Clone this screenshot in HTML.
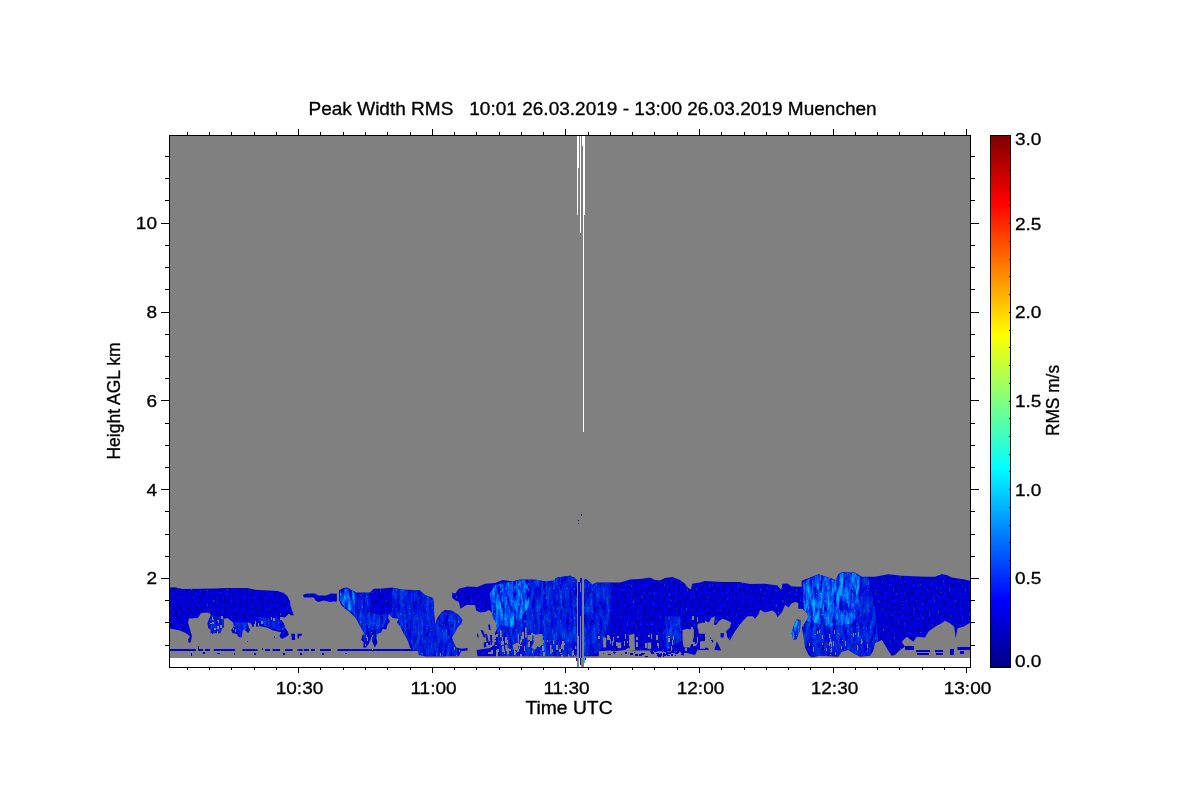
<!DOCTYPE html>
<html lang="en">
<head>
<meta charset="utf-8">
<title>Peak Width RMS 10:01 26.03.2019 - 13:00 26.03.2019 Muenchen</title>
<style>
html,body{margin:0;padding:0;background:#fff;}
body{width:1200px;height:800px;overflow:hidden;position:relative;font-family:"Liberation Sans",sans-serif;}
svg{position:absolute;left:0;top:0;display:block;}
text{font-family:"Liberation Sans",sans-serif;font-size:17px;fill:#000;stroke:#000;stroke-width:0.3px;}
.ax{shape-rendering:crispEdges;}
</style>
</head>
<body>
<svg width="1200" height="800" viewBox="0 0 1200 800">
<defs>
<linearGradient id="jet" x1="0" y1="1" x2="0" y2="0">
<stop offset="0" stop-color="rgb(0,0,131)"/>
<stop offset="0.125" stop-color="rgb(0,0,255)"/>
<stop offset="0.375" stop-color="rgb(0,255,255)"/>
<stop offset="0.625" stop-color="rgb(255,255,0)"/>
<stop offset="0.875" stop-color="rgb(255,0,0)"/>
<stop offset="1" stop-color="rgb(128,0,0)"/>
</linearGradient>
<clipPath id="plotclip"><rect x="170" y="136" width="800" height="531"/></clipPath>
<filter id="nd" x="0" y="0" width="100%" height="100%" color-interpolation-filters="sRGB">
<feTurbulence type="fractalNoise" baseFrequency="0.45 0.25" numOctaves="2" seed="7" result="n"/>
<feColorMatrix in="n" type="matrix" values="0 0 0 0 0  2.5 0 0 0 -1.72  0 0.7 0 0 0.46  0 0 0 0 1" result="c"/>
<feComposite in="c" in2="SourceGraphic" operator="in"/>
</filter>
<filter id="nb" x="0" y="0" width="100%" height="100%" color-interpolation-filters="sRGB">
<feTurbulence type="fractalNoise" baseFrequency="0.3 0.07" numOctaves="3" seed="11" result="n"/>
<feColorMatrix in="n" type="matrix" values="0 0 0 0 0  0.9 0 0 0 0.06  0 0 0 0 1  0 0 2.6 0 -0.70" result="c"/>
<feComposite in="c" in2="SourceGraphic" operator="in"/>
</filter>
<filter id="ns" x="0" y="0" width="100%" height="100%" color-interpolation-filters="sRGB">
<feTurbulence type="fractalNoise" baseFrequency="0.5 0.3" numOctaves="2" seed="23" result="n"/>
<feColorMatrix in="n" type="matrix" values="0 0 0 0 0  0 0 0 0 0.8  0 0 0 0 1  5 0 0 0 -3.3" result="c"/>
<feComposite in="c" in2="SourceGraphic" operator="in"/>
</filter>
</defs>
<rect x="0" y="0" width="1200" height="800" fill="#fff"/>
<g class="ax">
<rect x="170" y="136" width="800" height="522" fill="#808080"/>
</g>
<g clip-path="url(#plotclip)">
<g filter="url(#nd)" fill="#0000dc">
<polygon points="170.0,587.5 175.0,587.2 182.5,589.0 215.0,588.5 225.0,588.0 247.5,588.0 255.0,589.8 277.5,591.0 283.8,593.1 287.5,596.2 290.0,601.2 290.6,606.2 292.5,611.2 293.8,615.2 291.5,615.6 288.8,613.8 285.0,617.5 281.2,616.9 280.6,619.0 283.8,623.1 285.2,628.1 288.1,631.9 288.8,635.0 285.0,637.5 281.9,639.0 279.4,636.2 281.2,632.2 277.5,631.5 272.5,630.2 267.5,627.8 260.0,626.2 252.5,626.9 251.2,623.8 247.5,621.9 248.8,627.5 250.2,630.0 248.1,633.1 245.6,630.6 242.8,630.0 241.5,637.5 238.8,636.9 236.5,633.8 232.5,633.2 231.2,630.0 234.0,626.2 232.5,621.9 227.5,618.1 223.8,618.8 224.0,626.9 221.9,629.0 220.2,633.2 210.6,633.2 210.6,630.0 208.1,627.8 207.5,622.8 211.0,614.4 207.5,612.5 201.2,613.1 197.8,618.1 188.8,618.5 188.1,623.1 190.6,631.2 191.9,636.2 190.6,642.5 188.8,643.1 188.1,639.4 190.0,636.2 185.6,633.1 180.0,630.6 175.0,629.4 170.0,628.5"/>
<polygon points="291.2,633.8 295.0,633.8 295.0,640.0 291.9,640.0"/>
<polygon points="297.5,633.8 301.9,633.8 301.9,635.6 299.4,636.2 298.8,638.8 297.5,638.1"/>
<polygon points="303.1,595.0 306.2,593.5 315.0,593.5 318.1,595.6 326.2,595.6 331.2,593.5 336.9,593.8 336.9,601.5 330.0,601.9 323.8,600.6 318.1,601.9 315.6,600.6 313.8,597.5 303.8,597.5"/>
<polygon points="339.0,590.6 343.1,588.1 347.5,587.5 352.5,590.6 356.2,592.5 370.0,592.5 373.8,588.8 382.5,588.5 392.5,587.5 402.5,589.4 420.0,590.2 425.0,595.0 433.1,598.1 433.8,603.8 433.8,612.5 435.0,625.0 438.8,616.2 445.0,611.2 445.0,656.2 425.0,656.2 418.8,655.0 418.1,651.2 412.5,650.0 410.0,647.5 407.5,640.0 403.8,633.8 400.0,626.2 396.9,622.5 398.8,618.8 392.5,618.1 388.8,613.8 388.1,618.1 390.0,621.2 387.5,625.0 386.2,629.4 382.5,628.8 381.2,632.5 377.5,633.8 376.2,637.5 377.5,642.5 375.0,647.5 372.5,642.5 371.2,638.8 368.8,643.8 366.2,647.5 363.1,647.5 363.8,642.5 361.2,640.0 362.5,635.0 364.4,633.8 360.0,626.2 356.2,618.8 353.8,616.2 348.8,611.2 345.0,608.8 341.2,605.0 339.0,600.0"/>
<polygon points="425.0,595.0 430.0,597.5 433.1,598.8 433.8,607.5 435.0,625.0 436.9,618.8 441.2,612.5 445.0,610.0 451.9,610.6 458.8,615.0 462.5,620.0 461.2,623.8 457.5,627.5 455.0,632.5 451.9,637.5 453.8,642.5 456.2,647.5 461.2,648.8 467.5,648.1 467.5,650.6 461.2,651.2 458.8,656.2 425.0,656.2"/>
<polygon points="452.2,592.5 455.0,593.8 458.8,588.8 467.5,586.5 477.5,586.9 485.0,583.8 495.0,583.1 502.5,580.0 512.5,581.2 520.0,579.4 535.0,579.4 545.0,581.2 553.8,580.6 557.5,577.5 565.0,576.2 575.0,577.5 575.0,656.2 477.5,656.2 476.6,650.0 490.0,648.1 494.4,645.0 495.0,633.4 496.9,628.8 495.6,621.2 493.1,618.8 491.9,612.5 488.8,610.0 485.0,611.9 480.0,612.5 476.2,610.6 475.0,605.0 466.2,605.0 460.6,608.8 458.8,601.9 455.0,600.0 452.2,598.1"/>
<polygon points="488.1,624.4 490.0,624.4 490.6,630.0 489.0,630.0"/>
<polygon points="480.6,630.0 483.1,630.6 485.6,637.5 483.8,637.5"/>
<polygon points="485.0,633.8 486.9,633.8 488.8,642.5 486.9,642.5"/>
<polygon points="490.0,635.0 491.9,635.0 492.5,645.0 490.6,645.0"/>
<polygon points="483.8,642.5 490.0,641.2 490.0,645.6 483.8,647.5"/>
<polygon points="476.9,633.8 478.1,633.8 478.8,637.5 477.5,637.5"/>
<polygon points="555.0,578.1 562.5,577.5 570.0,575.6 575.6,578.8 577.0,580.0 577.0,656.2 555.0,656.2"/>
<polygon points="584.0,580.0 586.0,578.8 592.5,584.4 596.2,582.5 610.0,582.5 620.0,582.5 630.0,579.4 642.5,578.8 650.0,577.5 655.0,580.0 660.0,580.6 665.0,578.1 672.5,576.9 680.0,580.0 685.0,583.8 687.5,587.5 691.2,590.0 692.5,584.4 698.8,583.8 705.0,582.5 705.0,650.0 687.5,650.0 683.8,652.5 683.8,656.2 680.0,651.5 655.0,651.2 650.0,650.6 635.0,650.6 631.2,650.0 628.8,647.5 625.0,650.0 613.8,651.2 610.0,650.6 598.8,651.2 598.8,656.2 584.0,656.2"/>
<polygon points="685.0,585.0 687.5,587.5 691.2,590.0 691.9,583.8 700.0,582.5 705.0,581.0 722.5,581.9 738.8,581.9 750.0,584.0 765.0,583.8 777.5,585.6 781.2,590.0 782.5,583.8 787.5,583.5 791.2,586.2 800.0,586.9 803.1,586.9 803.1,608.8 802.5,608.8 798.8,603.1 795.0,601.9 791.2,603.8 788.8,607.5 785.0,605.0 782.5,611.2 777.5,617.5 776.2,613.8 772.5,610.6 765.0,612.5 760.0,609.4 758.8,613.8 755.0,618.8 752.5,616.2 747.5,616.2 742.5,621.2 735.0,631.2 730.0,640.6 727.5,637.5 726.2,631.2 730.0,627.5 731.2,622.5 726.2,620.0 722.5,618.8 718.8,621.2 716.2,625.0 713.8,625.0 715.0,616.2 711.2,618.1 708.8,622.5 703.8,620.0 701.2,625.0 703.8,631.2 702.5,642.5 703.8,647.5 708.1,648.1 708.8,650.0 697.5,650.0 695.0,655.0 685.0,652.5"/>
<polygon points="720.6,633.1 723.8,633.1 723.8,637.5 720.6,637.5"/>
<polygon points="710.0,637.5 713.1,637.5 713.1,642.5 710.0,642.5"/>
<polygon points="714.4,650.0 716.9,641.2 721.2,650.6"/>
<polygon points="801.7,580.8 808.3,578.3 818.3,574.2 826.7,576.7 835.8,580.0 838.3,574.2 841.7,572.0 855.0,572.5 861.7,576.7 875.0,576.7 888.3,574.2 901.7,575.8 925.0,576.7 935.0,576.7 941.7,574.2 946.7,575.0 951.7,577.5 963.3,579.2 970.0,580.8 970.0,623.3 969.2,623.3 963.3,626.7 957.5,628.3 955.8,638.3 954.2,626.7 950.0,623.3 945.0,620.8 941.7,623.3 935.0,626.7 928.3,631.7 925.0,637.5 916.7,636.7 913.3,641.7 906.7,636.7 901.7,641.7 905.0,646.7 900.0,650.0 895.0,655.0 891.7,655.8 888.3,650.8 885.0,645.0 881.7,640.0 875.0,643.3 873.3,650.8 870.0,655.8 860.0,656.7 853.3,653.3 848.3,650.0 841.7,651.7 838.3,656.7 820.0,655.8 811.7,657.5 808.7,655.0 805.0,647.5 803.7,637.5 801.8,627.5 805.0,622.5 808.2,617.5 807.5,613.7 802.5,608.7 798.3,608.7 798.3,586.7 801.7,586.7"/>
<polygon points="793.3,626.7 796.7,619.2 800.8,620.0 800.0,630.0 796.7,639.2 793.3,640.0 791.7,633.3"/>
<polygon points="170.0,649.0 196.0,649.0 196.0,651.0 170.0,651.0"/>
<polygon points="198.0,649.0 203.0,649.0 203.0,651.0 198.0,651.0"/>
<polygon points="205.0,649.0 210.0,649.0 210.0,651.0 205.0,651.0"/>
<polygon points="213.8,649.0 235.0,649.0 235.0,651.0 213.8,651.0"/>
<polygon points="242.5,649.0 257.5,649.0 257.5,651.0 242.5,651.0"/>
<polygon points="265.0,649.0 270.0,649.0 270.0,651.0 265.0,651.0"/>
<polygon points="272.5,649.0 280.0,649.0 280.0,651.0 272.5,651.0"/>
<polygon points="285.0,649.0 292.5,649.0 292.5,651.0 285.0,651.0"/>
<polygon points="297.5,649.0 302.5,649.0 302.5,651.0 297.5,651.0"/>
<polygon points="303.8,649.0 309.0,649.0 309.0,651.0 303.8,651.0"/>
<polygon points="311.0,649.0 315.0,649.0 315.0,651.0 311.0,651.0"/>
<polygon points="320.0,649.0 331.0,649.0 331.0,651.0 320.0,651.0"/>
<polygon points="337.5,649.0 419.0,649.0 419.0,651.0 337.5,651.0"/>
<polygon points="191.0,653.0 192.0,653.0 192.0,656.0 191.0,656.0"/>
<polygon points="198.0,646.0 199.0,646.0 199.0,649.0 198.0,649.0"/>
<polygon points="203.0,652.0 205.0,652.0 205.0,654.0 203.0,654.0"/>
<polygon points="217.0,653.0 220.0,653.0 220.0,654.0 217.0,654.0"/>
<polygon points="234.0,653.0 235.0,653.0 235.0,655.0 234.0,655.0"/>
<polygon points="254.0,653.0 256.0,653.0 256.0,655.0 254.0,655.0"/>
<polygon points="262.0,648.0 263.0,648.0 263.0,650.0 262.0,650.0"/>
<polygon points="283.0,653.0 285.0,653.0 285.0,655.0 283.0,655.0"/>
<polygon points="300.0,653.0 302.0,653.0 302.0,655.0 300.0,655.0"/>
<polygon points="322.0,653.0 324.0,653.0 324.0,655.0 322.0,655.0"/>
<polygon points="345.0,653.0 347.0,653.0 347.0,654.0 345.0,654.0"/>
<polygon points="247.0,641.0 248.0,641.0 248.0,642.0 247.0,642.0"/>
<polygon points="212.0,633.0 213.0,633.0 213.0,634.0 212.0,634.0"/>
<polygon points="274.0,636.0 275.0,636.0 275.0,638.0 274.0,638.0"/>
<polygon points="916.0,650.0 930.0,650.0 930.0,652.0 916.0,652.0"/>
<polygon points="917.0,653.0 929.0,653.0 929.0,655.0 917.0,655.0"/>
<polygon points="935.0,650.0 943.0,650.0 943.0,652.0 935.0,652.0"/>
<polygon points="936.0,653.0 943.0,653.0 943.0,655.0 936.0,655.0"/>
<polygon points="950.0,649.0 954.0,649.0 954.0,655.0 950.0,655.0"/>
<polygon points="957.5,647.0 970.0,647.0 970.0,650.0 957.5,650.0"/>
<polygon points="960.0,651.0 964.0,651.0 964.0,654.0 960.0,654.0"/>
<polygon points="905.0,646.0 914.0,646.0 914.0,650.0 905.0,650.0"/>
<polygon points="650.0,651.0 651.0,651.0 651.0,652.0 650.0,652.0"/>
<polygon points="664.0,654.0 666.0,654.0 666.0,656.0 664.0,656.0"/>
<polygon points="665.0,651.0 666.0,651.0 666.0,652.0 665.0,652.0"/>
<polygon points="672.0,651.0 674.0,651.0 674.0,653.0 672.0,653.0"/>
<polygon points="651.0,652.0 654.0,652.0 654.0,654.0 651.0,654.0"/>
<polygon points="654.0,651.0 657.0,651.0 657.0,652.0 654.0,652.0"/>
<polygon points="675.0,655.0 676.0,655.0 676.0,656.0 675.0,656.0"/>
<polygon points="677.0,652.0 678.0,652.0 678.0,654.0 677.0,654.0"/>
<polygon points="667.0,652.0 669.0,652.0 669.0,653.0 667.0,653.0"/>
<polygon points="669.0,652.0 671.0,652.0 671.0,654.0 669.0,654.0"/>
<polygon points="677.0,652.0 679.0,652.0 679.0,653.0 677.0,653.0"/>
<polygon points="635.0,654.0 637.0,654.0 637.0,656.0 635.0,656.0"/>
<polygon points="645.0,656.0 648.0,656.0 648.0,657.0 645.0,657.0"/>
<polygon points="641.0,653.0 644.0,653.0 644.0,655.0 641.0,655.0"/>
<polygon points="666.0,652.0 669.0,652.0 669.0,654.0 666.0,654.0"/>
<polygon points="671.0,654.0 673.0,654.0 673.0,656.0 671.0,656.0"/>
<polygon points="671.0,651.0 674.0,651.0 674.0,653.0 671.0,653.0"/>
<polygon points="681.0,654.0 683.0,654.0 683.0,655.0 681.0,655.0"/>
<polygon points="657.0,655.0 659.0,655.0 659.0,656.0 657.0,656.0"/>
<polygon points="639.0,654.0 642.0,654.0 642.0,656.0 639.0,656.0"/>
<polygon points="683.0,652.0 686.0,652.0 686.0,653.0 683.0,653.0"/>
<polygon points="657.0,654.0 660.0,654.0 660.0,656.0 657.0,656.0"/>
<polygon points="664.0,651.0 667.0,651.0 667.0,652.0 664.0,652.0"/>
<polygon points="675.0,652.0 677.0,652.0 677.0,654.0 675.0,654.0"/>
<polygon points="634.0,652.0 635.0,652.0 635.0,653.0 634.0,653.0"/>
<polygon points="659.0,655.0 662.0,655.0 662.0,656.0 659.0,656.0"/>
<polygon points="663.0,653.0 665.0,653.0 665.0,655.0 663.0,655.0"/>
<polygon points="658.0,656.0 661.0,656.0 661.0,657.0 658.0,657.0"/>
<polygon points="667.0,655.0 670.0,655.0 670.0,656.0 667.0,656.0"/>
<polygon points="637.0,654.0 638.0,654.0 638.0,656.0 637.0,656.0"/>
<polygon points="666.0,654.0 668.0,654.0 668.0,655.0 666.0,655.0"/>
<polygon points="660.0,653.0 662.0,653.0 662.0,655.0 660.0,655.0"/>
<polygon points="663.0,655.0 664.0,655.0 664.0,657.0 663.0,657.0"/>
<polygon points="674.0,652.0 675.0,652.0 675.0,653.0 674.0,653.0"/>
<polygon points="639.0,655.0 642.0,655.0 642.0,656.0 639.0,656.0"/>
<polygon points="677.0,651.0 679.0,651.0 679.0,652.0 677.0,652.0"/>
<polygon points="662.0,651.0 663.0,651.0 663.0,652.0 662.0,652.0"/>
<polygon points="651.0,651.0 653.0,651.0 653.0,652.0 651.0,652.0"/>
<polygon points="656.0,653.0 659.0,653.0 659.0,654.0 656.0,654.0"/>
<polygon points="644.0,653.0 645.0,653.0 645.0,654.0 644.0,654.0"/>
<polygon points="603.0,653.0 604.0,653.0 604.0,654.0 603.0,654.0"/>
<polygon points="614.0,652.0 615.0,652.0 615.0,654.0 614.0,654.0"/>
<polygon points="608.0,654.0 611.0,654.0 611.0,655.0 608.0,655.0"/>
<polygon points="630.0,653.0 633.0,653.0 633.0,655.0 630.0,655.0"/>
<polygon points="630.0,653.0 633.0,653.0 633.0,655.0 630.0,655.0"/>
<polygon points="621.0,654.0 622.0,654.0 622.0,655.0 621.0,655.0"/>
<polygon points="625.0,652.0 627.0,652.0 627.0,654.0 625.0,654.0"/>
<polygon points="613.0,652.0 616.0,652.0 616.0,653.0 613.0,653.0"/>
</g>
<clipPath id="cl">
<polygon points="170.0,587.5 175.0,587.2 182.5,589.0 215.0,588.5 225.0,588.0 247.5,588.0 255.0,589.8 277.5,591.0 283.8,593.1 287.5,596.2 290.0,601.2 290.6,606.2 292.5,611.2 293.8,615.2 291.5,615.6 288.8,613.8 285.0,617.5 281.2,616.9 280.6,619.0 283.8,623.1 285.2,628.1 288.1,631.9 288.8,635.0 285.0,637.5 281.9,639.0 279.4,636.2 281.2,632.2 277.5,631.5 272.5,630.2 267.5,627.8 260.0,626.2 252.5,626.9 251.2,623.8 247.5,621.9 248.8,627.5 250.2,630.0 248.1,633.1 245.6,630.6 242.8,630.0 241.5,637.5 238.8,636.9 236.5,633.8 232.5,633.2 231.2,630.0 234.0,626.2 232.5,621.9 227.5,618.1 223.8,618.8 224.0,626.9 221.9,629.0 220.2,633.2 210.6,633.2 210.6,630.0 208.1,627.8 207.5,622.8 211.0,614.4 207.5,612.5 201.2,613.1 197.8,618.1 188.8,618.5 188.1,623.1 190.6,631.2 191.9,636.2 190.6,642.5 188.8,643.1 188.1,639.4 190.0,636.2 185.6,633.1 180.0,630.6 175.0,629.4 170.0,628.5"/>
<polygon points="297.5,633.8 301.9,633.8 301.9,635.6 299.4,636.2 298.8,638.8 297.5,638.1"/>
<polygon points="303.1,595.0 306.2,593.5 315.0,593.5 318.1,595.6 326.2,595.6 331.2,593.5 336.9,593.8 336.9,601.5 330.0,601.9 323.8,600.6 318.1,601.9 315.6,600.6 313.8,597.5 303.8,597.5"/>
<polygon points="339.0,590.6 343.1,588.1 347.5,587.5 352.5,590.6 356.2,592.5 370.0,592.5 373.8,588.8 382.5,588.5 392.5,587.5 402.5,589.4 420.0,590.2 425.0,595.0 433.1,598.1 433.8,603.8 433.8,612.5 435.0,625.0 438.8,616.2 445.0,611.2 445.0,656.2 425.0,656.2 418.8,655.0 418.1,651.2 412.5,650.0 410.0,647.5 407.5,640.0 403.8,633.8 400.0,626.2 396.9,622.5 398.8,618.8 392.5,618.1 388.8,613.8 388.1,618.1 390.0,621.2 387.5,625.0 386.2,629.4 382.5,628.8 381.2,632.5 377.5,633.8 376.2,637.5 377.5,642.5 375.0,647.5 372.5,642.5 371.2,638.8 368.8,643.8 366.2,647.5 363.1,647.5 363.8,642.5 361.2,640.0 362.5,635.0 364.4,633.8 360.0,626.2 356.2,618.8 353.8,616.2 348.8,611.2 345.0,608.8 341.2,605.0 339.0,600.0"/>
<polygon points="425.0,595.0 430.0,597.5 433.1,598.8 433.8,607.5 435.0,625.0 436.9,618.8 441.2,612.5 445.0,610.0 451.9,610.6 458.8,615.0 462.5,620.0 461.2,623.8 457.5,627.5 455.0,632.5 451.9,637.5 453.8,642.5 456.2,647.5 461.2,648.8 467.5,648.1 467.5,650.6 461.2,651.2 458.8,656.2 425.0,656.2"/>
<polygon points="452.2,592.5 455.0,593.8 458.8,588.8 467.5,586.5 477.5,586.9 485.0,583.8 495.0,583.1 502.5,580.0 512.5,581.2 520.0,579.4 535.0,579.4 545.0,581.2 553.8,580.6 557.5,577.5 565.0,576.2 575.0,577.5 575.0,656.2 477.5,656.2 476.6,650.0 490.0,648.1 494.4,645.0 495.0,633.4 496.9,628.8 495.6,621.2 493.1,618.8 491.9,612.5 488.8,610.0 485.0,611.9 480.0,612.5 476.2,610.6 475.0,605.0 466.2,605.0 460.6,608.8 458.8,601.9 455.0,600.0 452.2,598.1"/>
<polygon points="555.0,578.1 562.5,577.5 570.0,575.6 575.6,578.8 577.0,580.0 577.0,656.2 555.0,656.2"/>
<polygon points="584.0,580.0 586.0,578.8 592.5,584.4 596.2,582.5 610.0,582.5 620.0,582.5 630.0,579.4 642.5,578.8 650.0,577.5 655.0,580.0 660.0,580.6 665.0,578.1 672.5,576.9 680.0,580.0 685.0,583.8 687.5,587.5 691.2,590.0 692.5,584.4 698.8,583.8 705.0,582.5 705.0,650.0 687.5,650.0 683.8,652.5 683.8,656.2 680.0,651.5 655.0,651.2 650.0,650.6 635.0,650.6 631.2,650.0 628.8,647.5 625.0,650.0 613.8,651.2 610.0,650.6 598.8,651.2 598.8,656.2 584.0,656.2"/>
<polygon points="685.0,585.0 687.5,587.5 691.2,590.0 691.9,583.8 700.0,582.5 705.0,581.0 722.5,581.9 738.8,581.9 750.0,584.0 765.0,583.8 777.5,585.6 781.2,590.0 782.5,583.8 787.5,583.5 791.2,586.2 800.0,586.9 803.1,586.9 803.1,608.8 802.5,608.8 798.8,603.1 795.0,601.9 791.2,603.8 788.8,607.5 785.0,605.0 782.5,611.2 777.5,617.5 776.2,613.8 772.5,610.6 765.0,612.5 760.0,609.4 758.8,613.8 755.0,618.8 752.5,616.2 747.5,616.2 742.5,621.2 735.0,631.2 730.0,640.6 727.5,637.5 726.2,631.2 730.0,627.5 731.2,622.5 726.2,620.0 722.5,618.8 718.8,621.2 716.2,625.0 713.8,625.0 715.0,616.2 711.2,618.1 708.8,622.5 703.8,620.0 701.2,625.0 703.8,631.2 702.5,642.5 703.8,647.5 708.1,648.1 708.8,650.0 697.5,650.0 695.0,655.0 685.0,652.5"/>
<polygon points="801.7,580.8 808.3,578.3 818.3,574.2 826.7,576.7 835.8,580.0 838.3,574.2 841.7,572.0 855.0,572.5 861.7,576.7 875.0,576.7 888.3,574.2 901.7,575.8 925.0,576.7 935.0,576.7 941.7,574.2 946.7,575.0 951.7,577.5 963.3,579.2 970.0,580.8 970.0,623.3 969.2,623.3 963.3,626.7 957.5,628.3 955.8,638.3 954.2,626.7 950.0,623.3 945.0,620.8 941.7,623.3 935.0,626.7 928.3,631.7 925.0,637.5 916.7,636.7 913.3,641.7 906.7,636.7 901.7,641.7 905.0,646.7 900.0,650.0 895.0,655.0 891.7,655.8 888.3,650.8 885.0,645.0 881.7,640.0 875.0,643.3 873.3,650.8 870.0,655.8 860.0,656.7 853.3,653.3 848.3,650.0 841.7,651.7 838.3,656.7 820.0,655.8 811.7,657.5 808.7,655.0 805.0,647.5 803.7,637.5 801.8,627.5 805.0,622.5 808.2,617.5 807.5,613.7 802.5,608.7 798.3,608.7 798.3,586.7 801.7,586.7"/>
<polygon points="793.3,626.7 796.7,619.2 800.8,620.0 800.0,630.0 796.7,639.2 793.3,640.0 791.7,633.3"/>
</clipPath>
<g clip-path="url(#cl)">
<g filter="url(#nb)" fill="#0040ff" opacity="1">
<polygon points="339.4,591.2 347.5,588.1 353.8,592.5 354.4,602.5 350.6,610.6 345.0,607.8 340.0,600.0"/>
<polygon points="495.0,585.0 512.5,581.5 525.0,580.0 530.0,590.0 528.8,606.2 522.5,617.5 512.5,627.5 500.0,625.0 496.9,628.8 493.1,618.8 491.9,612.5 490.0,593.8"/>
<polygon points="803.3,581.7 818.3,574.7 826.7,577.0 835.8,580.3 838.7,574.7 841.7,572.5 855.0,573.0 860.0,577.3 858.3,610.0 853.3,623.3 830.0,626.7 803.3,620.0"/>
<polygon points="793.3,626.7 796.7,619.2 800.8,620.0 800.0,630.0 796.7,639.2 793.3,640.0 791.7,633.3"/>
</g>
<g filter="url(#ns)" fill="#0040ff" opacity="1">
<polygon points="339.4,591.2 347.5,588.1 353.8,592.5 354.4,602.5 350.6,610.6 345.0,607.8 340.0,600.0"/>
<polygon points="495.0,585.0 512.5,581.5 525.0,580.0 530.0,590.0 528.8,606.2 522.5,617.5 512.5,627.5 500.0,625.0 496.9,628.8 493.1,618.8 491.9,612.5 490.0,593.8"/>
<polygon points="803.3,581.7 818.3,574.7 826.7,577.0 835.8,580.3 838.7,574.7 841.7,572.5 855.0,573.0 860.0,577.3 858.3,610.0 853.3,623.3 830.0,626.7 803.3,620.0"/>
<polygon points="793.3,626.7 796.7,619.2 800.8,620.0 800.0,630.0 796.7,639.2 793.3,640.0 791.7,633.3"/>
</g>
<g filter="url(#nb)" fill="#0040ff" opacity="0.38">
<polygon points="211.5,615.2 223.5,616.9 223.8,626.2 220.0,632.8 210.9,632.8 208.4,625.0"/>
<polygon points="257.5,616.9 277.5,618.1 285.0,627.5 281.2,631.2 265.0,626.5"/>
<polygon points="232.5,622.5 247.5,622.5 250.0,630.0 241.5,637.2 235.0,633.2"/>
<polygon points="525.0,580.0 575.0,578.1 575.0,656.2 500.0,656.2 496.9,628.8 500.0,625.0 512.5,627.5 522.5,617.5 528.8,606.2 530.0,590.0"/>
<polygon points="555.0,578.1 570.0,576.0 577.0,580.0 577.0,656.2 555.0,656.2"/>
<polygon points="584.0,580.6 596.2,582.8 610.0,582.8 612.5,612.5 607.5,640.0 598.8,652.5 584.0,656.2"/>
<polygon points="665.0,616.2 680.0,616.2 682.5,640.0 667.5,650.0 662.5,637.5"/>
<polygon points="803.3,620.0 830.0,626.7 853.3,623.3 855.0,630.0 858.3,643.3 860.0,656.3 853.3,653.3 848.3,650.0 841.7,651.7 838.3,656.3 820.0,655.7 812.5,657.2 805.3,646.7 803.7,637.5"/>
<polygon points="803.3,620.0 830.0,626.7 853.3,623.3 855.0,630.0 858.3,643.3 860.0,656.3 853.3,653.3 848.3,650.0 841.7,651.7 838.3,656.3 820.0,655.7 812.5,657.2 805.3,646.7 803.7,637.5"/>
<polygon points="860.0,577.3 868.3,577.3 875.0,610.0 878.3,640.0 875.0,643.3 870.0,655.3 860.0,656.3 858.3,643.3 855.0,630.0 858.3,610.0"/>
<polygon points="407.5,622.5 432.5,612.5 445.0,612.5 445.0,656.2 425.0,656.2 418.8,655.0 412.5,650.0"/>
<polygon points="425.0,612.5 441.2,612.5 451.9,610.6 458.8,615.0 462.5,620.0 457.5,627.5 451.9,637.5 456.2,647.5 458.8,656.2 425.0,656.2"/>
<polygon points="339.0,590.6 347.5,587.5 356.2,592.5 370.0,592.5 370.0,612.5 382.5,615.0 392.5,612.5 392.5,587.5 402.5,589.4 420.0,590.2 433.1,598.1 435.0,625.0 445.0,611.2 445.0,656.2 425.0,656.2 407.5,640.0 396.9,622.5 388.8,613.8 381.2,632.5 366.2,647.5 360.0,626.2 348.8,611.2 339.0,600.0"/>
</g>
<g filter="url(#ns)" fill="#0040ff" opacity="0.38">
<polygon points="211.5,615.2 223.5,616.9 223.8,626.2 220.0,632.8 210.9,632.8 208.4,625.0"/>
<polygon points="257.5,616.9 277.5,618.1 285.0,627.5 281.2,631.2 265.0,626.5"/>
<polygon points="232.5,622.5 247.5,622.5 250.0,630.0 241.5,637.2 235.0,633.2"/>
<polygon points="525.0,580.0 575.0,578.1 575.0,656.2 500.0,656.2 496.9,628.8 500.0,625.0 512.5,627.5 522.5,617.5 528.8,606.2 530.0,590.0"/>
<polygon points="555.0,578.1 570.0,576.0 577.0,580.0 577.0,656.2 555.0,656.2"/>
<polygon points="584.0,580.6 596.2,582.8 610.0,582.8 612.5,612.5 607.5,640.0 598.8,652.5 584.0,656.2"/>
<polygon points="665.0,616.2 680.0,616.2 682.5,640.0 667.5,650.0 662.5,637.5"/>
<polygon points="803.3,620.0 830.0,626.7 853.3,623.3 855.0,630.0 858.3,643.3 860.0,656.3 853.3,653.3 848.3,650.0 841.7,651.7 838.3,656.3 820.0,655.7 812.5,657.2 805.3,646.7 803.7,637.5"/>
<polygon points="803.3,620.0 830.0,626.7 853.3,623.3 855.0,630.0 858.3,643.3 860.0,656.3 853.3,653.3 848.3,650.0 841.7,651.7 838.3,656.3 820.0,655.7 812.5,657.2 805.3,646.7 803.7,637.5"/>
<polygon points="860.0,577.3 868.3,577.3 875.0,610.0 878.3,640.0 875.0,643.3 870.0,655.3 860.0,656.3 858.3,643.3 855.0,630.0 858.3,610.0"/>
<polygon points="407.5,622.5 432.5,612.5 445.0,612.5 445.0,656.2 425.0,656.2 418.8,655.0 412.5,650.0"/>
<polygon points="425.0,612.5 441.2,612.5 451.9,610.6 458.8,615.0 462.5,620.0 457.5,627.5 451.9,637.5 456.2,647.5 458.8,656.2 425.0,656.2"/>
<polygon points="339.0,590.6 347.5,587.5 356.2,592.5 370.0,592.5 370.0,612.5 382.5,615.0 392.5,612.5 392.5,587.5 402.5,589.4 420.0,590.2 433.1,598.1 435.0,625.0 445.0,611.2 445.0,656.2 425.0,656.2 407.5,640.0 396.9,622.5 388.8,613.8 381.2,632.5 366.2,647.5 360.0,626.2 348.8,611.2 339.0,600.0"/>
</g>
</g>
<g fill="#808080">
<polygon points="533.8,635.0 542.5,633.8 543.1,645.0 537.5,646.2 535.0,650.0 531.2,647.5 533.8,642.5"/>
<polygon points="512.5,645.0 517.5,642.5 518.8,650.0 513.8,650.0"/>
<polygon points="682.5,630.0 687.5,628.8 693.8,630.0 693.8,637.5 690.0,647.5 683.8,647.5 682.5,640.0"/>
<polygon points="697.5,623.8 705.0,622.5 705.0,633.8 698.8,633.8"/>
<polygon points="700.0,641.2 705.0,641.2 705.0,648.8 700.0,648.8"/>
<polygon points="603.1,637.5 606.2,637.5 606.2,647.5 603.1,647.5"/>
<polygon points="617.5,642.5 621.2,642.5 621.2,648.1 617.5,648.1"/>
<polygon points="628.8,635.0 634.4,633.8 635.0,650.0 630.0,650.0"/>
<polygon points="647.5,642.5 651.2,642.5 651.2,648.8 647.5,648.8"/>
<polygon points="690.0,630.0 693.8,628.8 692.5,640.0 688.8,645.0 687.5,640.0"/>
<polygon points="697.5,625.0 701.2,624.4 700.6,628.8 697.5,628.8"/>
<polygon points="525.0,627.5 526.5,627.5 526.8,637.5 525.2,637.5"/>
<polygon points="517.5,633.8 518.8,633.8 519.0,642.5 517.8,642.5"/>
<polygon points="505.0,645.0 507.5,644.4 507.8,651.2 505.6,651.2"/>
<polygon points="527.5,635.0 532.5,634.8 532.2,640.0 527.8,640.2"/>
<polygon points="500.0,630.0 501.5,630.0 501.8,637.5 500.2,637.5"/>
<polygon points="550.0,645.0 551.5,645.0 551.8,653.8 550.2,653.8"/>
<polygon points="562.5,642.5 563.8,642.5 564.0,650.0 562.8,650.0"/>
<polygon points="507.0,648.0 509.0,648.0 509.0,654.0 507.0,654.0"/>
<polygon points="534.0,639.0 535.0,639.0 535.0,643.0 534.0,643.0"/>
<polygon points="492.0,643.0 493.0,643.0 493.0,645.0 492.0,645.0"/>
<polygon points="509.0,649.0 511.0,649.0 511.0,651.0 509.0,651.0"/>
<polygon points="500.0,632.0 501.0,632.0 501.0,637.0 500.0,637.0"/>
<polygon points="502.0,637.0 503.0,637.0 503.0,641.0 502.0,641.0"/>
<polygon points="533.0,634.0 535.0,634.0 535.0,636.0 533.0,636.0"/>
<polygon points="524.0,646.0 525.0,646.0 525.0,651.0 524.0,651.0"/>
<polygon points="485.0,632.0 486.0,632.0 486.0,634.0 485.0,634.0"/>
<polygon points="495.0,637.0 496.0,637.0 496.0,639.0 495.0,639.0"/>
<polygon points="497.0,649.0 499.0,649.0 499.0,652.0 497.0,652.0"/>
<polygon points="529.0,638.0 530.0,638.0 530.0,640.0 529.0,640.0"/>
<polygon points="486.0,643.0 488.0,643.0 488.0,646.0 486.0,646.0"/>
<polygon points="494.0,640.0 496.0,640.0 496.0,642.0 494.0,642.0"/>
<polygon points="504.0,651.0 505.0,651.0 505.0,654.0 504.0,654.0"/>
<polygon points="528.0,642.0 529.0,642.0 529.0,647.0 528.0,647.0"/>
<polygon points="507.0,641.0 508.0,641.0 508.0,644.0 507.0,644.0"/>
<polygon points="505.0,637.0 507.0,637.0 507.0,643.0 505.0,643.0"/>
<polygon points="530.0,637.0 532.0,637.0 532.0,641.0 530.0,641.0"/>
<polygon points="486.0,643.0 487.0,643.0 487.0,646.0 486.0,646.0"/>
<polygon points="520.0,645.0 522.0,645.0 522.0,646.0 520.0,646.0"/>
<polygon points="522.0,632.0 524.0,632.0 524.0,636.0 522.0,636.0"/>
<polygon points="530.0,637.0 532.0,637.0 532.0,638.0 530.0,638.0"/>
<polygon points="533.0,639.0 534.0,639.0 534.0,640.0 533.0,640.0"/>
<polygon points="517.0,643.0 519.0,643.0 519.0,646.0 517.0,646.0"/>
<polygon points="491.0,650.0 493.0,650.0 493.0,654.0 491.0,654.0"/>
<polygon points="487.0,645.0 489.0,645.0 489.0,648.0 487.0,648.0"/>
<polygon points="506.0,648.0 507.0,648.0 507.0,650.0 506.0,650.0"/>
<polygon points="506.0,640.0 508.0,640.0 508.0,642.0 506.0,642.0"/>
<polygon points="528.0,642.0 529.0,642.0 529.0,645.0 528.0,645.0"/>
<polygon points="490.0,652.0 492.0,652.0 492.0,654.0 490.0,654.0"/>
<polygon points="529.0,641.0 530.0,641.0 530.0,647.0 529.0,647.0"/>
<polygon points="531.0,633.0 533.0,633.0 533.0,635.0 531.0,635.0"/>
<polygon points="519.0,644.0 520.0,644.0 520.0,649.0 519.0,649.0"/>
<polygon points="532.0,651.0 533.0,651.0 533.0,653.0 532.0,653.0"/>
<polygon points="514.0,652.0 516.0,652.0 516.0,655.0 514.0,655.0"/>
<polygon points="488.0,652.0 490.0,652.0 490.0,654.0 488.0,654.0"/>
<polygon points="506.0,638.0 507.0,638.0 507.0,642.0 506.0,642.0"/>
<polygon points="521.0,636.0 522.0,636.0 522.0,642.0 521.0,642.0"/>
<polygon points="495.0,645.0 497.0,645.0 497.0,646.0 495.0,646.0"/>
<polygon points="488.0,645.0 490.0,645.0 490.0,647.0 488.0,647.0"/>
<polygon points="514.0,651.0 516.0,651.0 516.0,653.0 514.0,653.0"/>
<polygon points="514.0,647.0 515.0,647.0 515.0,652.0 514.0,652.0"/>
<polygon points="502.0,641.0 504.0,641.0 504.0,645.0 502.0,645.0"/>
<polygon points="494.0,635.0 496.0,635.0 496.0,639.0 494.0,639.0"/>
<polygon points="496.0,652.0 498.0,652.0 498.0,657.0 496.0,657.0"/>
<polygon points="496.0,634.0 498.0,634.0 498.0,637.0 496.0,637.0"/>
<polygon points="517.0,649.0 519.0,649.0 519.0,652.0 517.0,652.0"/>
<polygon points="535.0,656.0 537.0,656.0 537.0,657.0 535.0,657.0"/>
<polygon points="522.0,633.0 524.0,633.0 524.0,639.0 522.0,639.0"/>
<polygon points="520.0,654.0 522.0,654.0 522.0,657.0 520.0,657.0"/>
<polygon points="501.0,641.0 503.0,641.0 503.0,645.0 501.0,645.0"/>
<polygon points="496.0,650.0 498.0,650.0 498.0,656.0 496.0,656.0"/>
<polygon points="520.0,640.0 521.0,640.0 521.0,644.0 520.0,644.0"/>
<polygon points="502.0,646.0 504.0,646.0 504.0,652.0 502.0,652.0"/>
<polygon points="553.0,640.0 554.0,640.0 554.0,644.0 553.0,644.0"/>
<polygon points="574.0,655.0 575.0,655.0 575.0,657.0 574.0,657.0"/>
<polygon points="538.0,644.0 540.0,644.0 540.0,647.0 538.0,647.0"/>
<polygon points="563.0,643.0 565.0,643.0 565.0,645.0 563.0,645.0"/>
<polygon points="572.0,651.0 573.0,651.0 573.0,656.0 572.0,656.0"/>
<polygon points="542.0,646.0 544.0,646.0 544.0,651.0 542.0,651.0"/>
<polygon points="560.0,653.0 562.0,653.0 562.0,654.0 560.0,654.0"/>
<polygon points="543.0,652.0 545.0,652.0 545.0,656.0 543.0,656.0"/>
<polygon points="543.0,640.0 544.0,640.0 544.0,643.0 543.0,643.0"/>
<polygon points="568.0,654.0 569.0,654.0 569.0,657.0 568.0,657.0"/>
<polygon points="573.0,650.0 574.0,650.0 574.0,655.0 573.0,655.0"/>
<polygon points="552.0,649.0 553.0,649.0 553.0,652.0 552.0,652.0"/>
<polygon points="559.0,649.0 561.0,649.0 561.0,652.0 559.0,652.0"/>
<polygon points="569.0,656.0 570.0,656.0 570.0,657.0 569.0,657.0"/>
<polygon points="575.0,648.0 576.0,648.0 576.0,649.0 575.0,649.0"/>
<polygon points="561.0,655.0 563.0,655.0 563.0,657.0 561.0,657.0"/>
<polygon points="575.0,646.0 576.0,646.0 576.0,648.0 575.0,648.0"/>
<polygon points="547.0,640.0 548.0,640.0 548.0,642.0 547.0,642.0"/>
<polygon points="556.0,645.0 558.0,645.0 558.0,650.0 556.0,650.0"/>
<polygon points="561.0,644.0 563.0,644.0 563.0,649.0 561.0,649.0"/>
<polygon points="540.0,642.0 541.0,642.0 541.0,646.0 540.0,646.0"/>
<polygon points="562.0,641.0 564.0,641.0 564.0,646.0 562.0,646.0"/>
<polygon points="648.0,635.0 650.0,635.0 650.0,637.0 648.0,637.0"/>
<polygon points="610.0,639.0 611.0,639.0 611.0,644.0 610.0,644.0"/>
<polygon points="625.0,634.0 626.0,634.0 626.0,639.0 625.0,639.0"/>
<polygon points="651.0,635.0 652.0,635.0 652.0,639.0 651.0,639.0"/>
<polygon points="668.0,647.0 669.0,647.0 669.0,648.0 668.0,648.0"/>
<polygon points="613.0,637.0 614.0,637.0 614.0,642.0 613.0,642.0"/>
<polygon points="672.0,640.0 673.0,640.0 673.0,645.0 672.0,645.0"/>
<polygon points="603.0,638.0 604.0,638.0 604.0,640.0 603.0,640.0"/>
<polygon points="616.0,642.0 618.0,642.0 618.0,646.0 616.0,646.0"/>
<polygon points="637.0,642.0 638.0,642.0 638.0,647.0 637.0,647.0"/>
<polygon points="672.0,640.0 673.0,640.0 673.0,641.0 672.0,641.0"/>
<polygon points="668.0,636.0 670.0,636.0 670.0,637.0 668.0,637.0"/>
<polygon points="624.0,641.0 625.0,641.0 625.0,646.0 624.0,646.0"/>
<polygon points="657.0,643.0 659.0,643.0 659.0,646.0 657.0,646.0"/>
<polygon points="636.0,637.0 638.0,637.0 638.0,640.0 636.0,640.0"/>
<polygon points="697.0,637.0 698.0,637.0 698.0,643.0 697.0,643.0"/>
<polygon points="636.0,642.0 637.0,642.0 637.0,647.0 636.0,647.0"/>
<polygon points="691.0,641.0 693.0,641.0 693.0,644.0 691.0,644.0"/>
<polygon points="607.0,635.0 609.0,635.0 609.0,640.0 607.0,640.0"/>
<polygon points="694.0,644.0 696.0,644.0 696.0,646.0 694.0,646.0"/>
<polygon points="651.0,634.0 652.0,634.0 652.0,638.0 651.0,638.0"/>
<polygon points="671.0,646.0 672.0,646.0 672.0,651.0 671.0,651.0"/>
<polygon points="686.0,639.0 688.0,639.0 688.0,642.0 686.0,642.0"/>
<polygon points="656.0,635.0 658.0,635.0 658.0,640.0 656.0,640.0"/>
<polygon points="658.0,645.0 659.0,645.0 659.0,648.0 658.0,648.0"/>
<polygon points="691.0,643.0 692.0,643.0 692.0,644.0 691.0,644.0"/>
<polygon points="689.0,640.0 691.0,640.0 691.0,643.0 689.0,643.0"/>
<polygon points="657.0,645.0 659.0,645.0 659.0,646.0 657.0,646.0"/>
<polygon points="612.0,641.0 613.0,641.0 613.0,646.0 612.0,646.0"/>
<polygon points="696.0,643.0 697.0,643.0 697.0,645.0 696.0,645.0"/>
<polygon points="629.0,640.0 630.0,640.0 630.0,646.0 629.0,646.0"/>
<polygon points="608.0,636.0 610.0,636.0 610.0,640.0 608.0,640.0"/>
<polygon points="668.0,638.0 670.0,638.0 670.0,642.0 668.0,642.0"/>
<polygon points="668.0,638.0 669.0,638.0 669.0,642.0 668.0,642.0"/>
<polygon points="685.0,648.0 687.0,648.0 687.0,651.0 685.0,651.0"/>
<polygon points="617.0,636.0 619.0,636.0 619.0,638.0 617.0,638.0"/>
<polygon points="627.0,641.0 628.0,641.0 628.0,643.0 627.0,643.0"/>
<polygon points="673.0,636.0 674.0,636.0 674.0,640.0 673.0,640.0"/>
<polygon points="598.0,636.0 600.0,636.0 600.0,639.0 598.0,639.0"/>
<polygon points="645.0,643.0 647.0,643.0 647.0,648.0 645.0,648.0"/>
<polygon points="853.0,634.0 854.0,634.0 854.0,637.0 853.0,637.0"/>
<polygon points="815.0,634.0 816.0,634.0 816.0,635.0 815.0,635.0"/>
<polygon points="831.0,642.0 832.0,642.0 832.0,647.0 831.0,647.0"/>
<polygon points="867.0,644.0 868.0,644.0 868.0,648.0 867.0,648.0"/>
<polygon points="829.0,642.0 830.0,642.0 830.0,646.0 829.0,646.0"/>
<polygon points="834.0,630.0 835.0,630.0 835.0,634.0 834.0,634.0"/>
<polygon points="857.0,645.0 858.0,645.0 858.0,650.0 857.0,650.0"/>
<polygon points="838.0,633.0 839.0,633.0 839.0,634.0 838.0,634.0"/>
<polygon points="853.0,633.0 854.0,633.0 854.0,637.0 853.0,637.0"/>
<polygon points="835.0,652.0 836.0,652.0 836.0,655.0 835.0,655.0"/>
<polygon points="831.0,648.0 832.0,648.0 832.0,652.0 831.0,652.0"/>
<polygon points="813.0,647.0 814.0,647.0 814.0,652.0 813.0,652.0"/>
<polygon points="829.0,634.0 830.0,634.0 830.0,638.0 829.0,638.0"/>
<polygon points="861.0,639.0 862.0,639.0 862.0,644.0 861.0,644.0"/>
<polygon points="822.0,635.0 823.0,635.0 823.0,639.0 822.0,639.0"/>
<polygon points="845.0,641.0 846.0,641.0 846.0,646.0 845.0,646.0"/>
<polygon points="830.0,639.0 831.0,639.0 831.0,644.0 830.0,644.0"/>
<polygon points="841.0,646.0 842.0,646.0 842.0,649.0 841.0,649.0"/>
<polygon points="833.0,641.0 834.0,641.0 834.0,646.0 833.0,646.0"/>
<polygon points="842.0,640.0 843.0,640.0 843.0,641.0 842.0,641.0"/>
<polygon points="809.0,643.0 810.0,643.0 810.0,646.0 809.0,646.0"/>
<polygon points="843.0,652.0 844.0,652.0 844.0,656.0 843.0,656.0"/>
<polygon points="855.0,633.0 856.0,633.0 856.0,635.0 855.0,635.0"/>
<polygon points="830.0,654.0 831.0,654.0 831.0,655.0 830.0,655.0"/>
<polygon points="819.0,630.0 820.0,630.0 820.0,633.0 819.0,633.0"/>
<polygon points="826.0,648.0 827.0,648.0 827.0,651.0 826.0,651.0"/>
<polygon points="822.0,643.0 823.0,643.0 823.0,645.0 822.0,645.0"/>
<polygon points="858.0,632.0 859.0,632.0 859.0,636.0 858.0,636.0"/>
<polygon points="817.0,631.0 818.0,631.0 818.0,634.0 817.0,634.0"/>
<polygon points="851.0,634.0 852.0,634.0 852.0,635.0 851.0,635.0"/>
<polygon points="254.0,624.0 256.0,624.0 256.0,627.0 254.0,627.0"/>
<polygon points="207.0,626.0 208.0,626.0 208.0,627.0 207.0,627.0"/>
<polygon points="217.0,626.0 219.0,626.0 219.0,629.0 217.0,629.0"/>
<polygon points="255.0,621.0 256.0,621.0 256.0,624.0 255.0,624.0"/>
<polygon points="261.0,621.0 263.0,621.0 263.0,624.0 261.0,624.0"/>
<polygon points="213.0,619.0 214.0,619.0 214.0,620.0 213.0,620.0"/>
<polygon points="282.0,618.0 283.0,618.0 283.0,621.0 282.0,621.0"/>
<polygon points="220.0,625.0 222.0,625.0 222.0,628.0 220.0,628.0"/>
<polygon points="235.0,629.0 236.0,629.0 236.0,632.0 235.0,632.0"/>
<polygon points="233.0,628.0 234.0,628.0 234.0,630.0 233.0,630.0"/>
<polygon points="212.0,622.0 214.0,622.0 214.0,624.0 212.0,624.0"/>
<polygon points="214.0,628.0 215.0,628.0 215.0,630.0 214.0,630.0"/>
<polygon points="210.0,623.0 212.0,623.0 212.0,624.0 210.0,624.0"/>
<polygon points="221.0,616.0 223.0,616.0 223.0,619.0 221.0,619.0"/>
<polygon points="232.0,622.0 233.0,622.0 233.0,625.0 232.0,625.0"/>
<polygon points="217.0,620.0 219.0,620.0 219.0,621.0 217.0,621.0"/>
<polygon points="217.0,631.0 218.0,631.0 218.0,634.0 217.0,634.0"/>
<polygon points="215.0,628.0 216.0,628.0 216.0,630.0 215.0,630.0"/>
<polygon points="218.0,620.0 219.0,620.0 219.0,623.0 218.0,623.0"/>
<polygon points="212.0,617.0 213.0,617.0 213.0,620.0 212.0,620.0"/>
<polygon points="284.0,620.0 286.0,620.0 286.0,623.0 284.0,623.0"/>
<polygon points="280.0,617.0 282.0,617.0 282.0,620.0 280.0,620.0"/>
<polygon points="258.0,623.0 259.0,623.0 259.0,626.0 258.0,626.0"/>
<polygon points="271.0,617.0 272.0,617.0 272.0,620.0 271.0,620.0"/>
<polygon points="273.0,618.0 275.0,618.0 275.0,621.0 273.0,621.0"/>
<polygon points="372.0,646.0 373.0,646.0 373.0,650.0 372.0,650.0"/>
<polygon points="372.0,643.0 373.0,643.0 373.0,645.0 372.0,645.0"/>
<polygon points="365.0,644.0 366.0,644.0 366.0,646.0 365.0,646.0"/>
<polygon points="366.0,635.0 367.0,635.0 367.0,638.0 366.0,638.0"/>
<polygon points="371.0,632.0 372.0,632.0 372.0,633.0 371.0,633.0"/>
<polygon points="371.0,637.0 372.0,637.0 372.0,641.0 371.0,641.0"/>
<polygon points="367.0,637.0 368.0,637.0 368.0,641.0 367.0,641.0"/>
<polygon points="372.0,635.0 373.0,635.0 373.0,637.0 372.0,637.0"/>
<polygon points="454.0,647.0 455.0,647.0 455.0,650.0 454.0,650.0"/>
<polygon points="456.0,655.0 457.0,655.0 457.0,656.0 456.0,656.0"/>
<polygon points="454.0,649.0 455.0,649.0 455.0,650.0 454.0,650.0"/>
<polygon points="457.0,641.0 458.0,641.0 458.0,642.0 457.0,642.0"/>
<polygon points="459.0,650.0 460.0,650.0 460.0,652.0 459.0,652.0"/>
<polygon points="440.0,653.0 441.0,653.0 441.0,656.0 440.0,656.0"/>
<polygon points="711.0,637.0 713.0,637.0 713.0,640.0 711.0,640.0"/>
<polygon points="690.0,638.0 691.0,638.0 691.0,642.0 690.0,642.0"/>
<polygon points="710.0,644.0 712.0,644.0 712.0,647.0 710.0,647.0"/>
<polygon points="690.0,636.0 691.0,636.0 691.0,641.0 690.0,641.0"/>
<polygon points="701.0,625.0 702.0,625.0 702.0,629.0 701.0,629.0"/>
<polygon points="691.0,627.0 693.0,627.0 693.0,629.0 691.0,629.0"/>
<polygon points="711.0,641.0 712.0,641.0 712.0,646.0 711.0,646.0"/>
<polygon points="692.0,616.0 694.0,616.0 694.0,620.0 692.0,620.0"/>
<polygon points="697.0,617.0 698.0,617.0 698.0,622.0 697.0,622.0"/>
<polygon points="693.0,642.0 695.0,642.0 695.0,646.0 693.0,646.0"/>
<polygon points="700.0,643.0 701.0,643.0 701.0,648.0 700.0,648.0"/>
<polygon points="707.0,625.0 708.0,625.0 708.0,626.0 707.0,626.0"/>
<polygon points="709.0,641.0 710.0,641.0 710.0,645.0 709.0,645.0"/>
<polygon points="709.0,639.0 711.0,639.0 711.0,643.0 709.0,643.0"/>
</g>
<g class="ax">
<rect x="578" y="582" width="2" height="76" fill="#0000d8"/>
<rect x="580" y="578" width="2" height="80" fill="#0010e8"/>
<rect x="580" y="583" width="1" height="9" fill="#808080"/>
<rect x="580" y="616" width="1" height="42" fill="#808080"/>
<rect x="578" y="636" width="1" height="22" fill="#808080"/>
<rect x="581" y="514" width="1" height="2" fill="#00008f"/>
<rect x="578" y="520" width="1" height="1" fill="#00008f"/>
<rect x="578" y="523" width="1" height="1" fill="#00008f"/>
</g>
</g>
<g class="ax">
<rect x="576" y="658" width="1" height="3" fill="#0000e0"/>
<rect x="577" y="658" width="2" height="9" fill="#808080"/>
<rect x="580" y="658" width="1" height="7" fill="#0000e0"/>
<rect x="581" y="658" width="3" height="9" fill="#808080"/>
<rect x="584" y="658" width="1" height="5" fill="#00c8ff"/>
<rect x="585" y="658" width="1" height="2" fill="#0000e0"/>
</g>
<g class="ax" fill="#fff">
<rect x="577" y="136" width="2" height="32"/>
<rect x="577" y="168" width="1" height="47"/>
<rect x="580" y="136" width="1" height="97"/>
<rect x="582" y="136" width="3" height="10"/>
<rect x="583" y="146" width="2" height="69"/>
<rect x="583" y="215" width="1" height="217"/>
</g>
<g class="ax" fill="#000">
<rect x="169" y="135" width="802" height="1"/>
<rect x="169" y="667" width="802" height="1"/>
<rect x="169" y="135" width="1" height="533"/>
<rect x="970" y="135" width="1" height="533"/>
<rect x="187" y="132" width="1" height="3"/><rect x="187" y="668" width="1" height="2"/>
<rect x="209" y="132" width="1" height="3"/><rect x="209" y="668" width="1" height="2"/>
<rect x="231" y="132" width="1" height="3"/><rect x="231" y="668" width="1" height="2"/>
<rect x="254" y="132" width="1" height="3"/><rect x="254" y="668" width="1" height="2"/>
<rect x="276" y="132" width="1" height="3"/><rect x="276" y="668" width="1" height="2"/>
<rect x="298" y="129" width="1" height="6"/><rect x="298" y="668" width="1" height="5"/>
<rect x="320" y="132" width="1" height="3"/><rect x="320" y="668" width="1" height="2"/>
<rect x="343" y="132" width="1" height="3"/><rect x="343" y="668" width="1" height="2"/>
<rect x="365" y="132" width="1" height="3"/><rect x="365" y="668" width="1" height="2"/>
<rect x="387" y="132" width="1" height="3"/><rect x="387" y="668" width="1" height="2"/>
<rect x="410" y="132" width="1" height="3"/><rect x="410" y="668" width="1" height="2"/>
<rect x="432" y="129" width="1" height="6"/><rect x="432" y="668" width="1" height="5"/>
<rect x="454" y="132" width="1" height="3"/><rect x="454" y="668" width="1" height="2"/>
<rect x="476" y="132" width="1" height="3"/><rect x="476" y="668" width="1" height="2"/>
<rect x="499" y="132" width="1" height="3"/><rect x="499" y="668" width="1" height="2"/>
<rect x="521" y="132" width="1" height="3"/><rect x="521" y="668" width="1" height="2"/>
<rect x="543" y="132" width="1" height="3"/><rect x="543" y="668" width="1" height="2"/>
<rect x="565" y="129" width="1" height="6"/><rect x="565" y="668" width="1" height="5"/>
<rect x="588" y="132" width="1" height="3"/><rect x="588" y="668" width="1" height="2"/>
<rect x="610" y="132" width="1" height="3"/><rect x="610" y="668" width="1" height="2"/>
<rect x="632" y="132" width="1" height="3"/><rect x="632" y="668" width="1" height="2"/>
<rect x="654" y="132" width="1" height="3"/><rect x="654" y="668" width="1" height="2"/>
<rect x="677" y="132" width="1" height="3"/><rect x="677" y="668" width="1" height="2"/>
<rect x="699" y="129" width="1" height="6"/><rect x="699" y="668" width="1" height="5"/>
<rect x="721" y="132" width="1" height="3"/><rect x="721" y="668" width="1" height="2"/>
<rect x="744" y="132" width="1" height="3"/><rect x="744" y="668" width="1" height="2"/>
<rect x="766" y="132" width="1" height="3"/><rect x="766" y="668" width="1" height="2"/>
<rect x="788" y="132" width="1" height="3"/><rect x="788" y="668" width="1" height="2"/>
<rect x="810" y="132" width="1" height="3"/><rect x="810" y="668" width="1" height="2"/>
<rect x="833" y="129" width="1" height="6"/><rect x="833" y="668" width="1" height="5"/>
<rect x="855" y="132" width="1" height="3"/><rect x="855" y="668" width="1" height="2"/>
<rect x="877" y="132" width="1" height="3"/><rect x="877" y="668" width="1" height="2"/>
<rect x="899" y="132" width="1" height="3"/><rect x="899" y="668" width="1" height="2"/>
<rect x="922" y="132" width="1" height="3"/><rect x="922" y="668" width="1" height="2"/>
<rect x="944" y="132" width="1" height="3"/><rect x="944" y="668" width="1" height="2"/>
<rect x="966" y="129" width="1" height="6"/><rect x="966" y="668" width="1" height="5"/>
<rect x="165" y="645" width="4" height="1"/><rect x="971" y="645" width="4" height="1"/>
<rect x="165" y="622" width="4" height="1"/><rect x="971" y="622" width="4" height="1"/>
<rect x="165" y="600" width="4" height="1"/><rect x="971" y="600" width="4" height="1"/>
<rect x="161" y="578" width="8" height="1"/><rect x="971" y="578" width="8" height="1"/>
<rect x="165" y="556" width="4" height="1"/><rect x="971" y="556" width="4" height="1"/>
<rect x="165" y="534" width="4" height="1"/><rect x="971" y="534" width="4" height="1"/>
<rect x="165" y="511" width="4" height="1"/><rect x="971" y="511" width="4" height="1"/>
<rect x="161" y="489" width="8" height="1"/><rect x="971" y="489" width="8" height="1"/>
<rect x="165" y="467" width="4" height="1"/><rect x="971" y="467" width="4" height="1"/>
<rect x="165" y="445" width="4" height="1"/><rect x="971" y="445" width="4" height="1"/>
<rect x="165" y="423" width="4" height="1"/><rect x="971" y="423" width="4" height="1"/>
<rect x="161" y="400" width="8" height="1"/><rect x="971" y="400" width="8" height="1"/>
<rect x="165" y="378" width="4" height="1"/><rect x="971" y="378" width="4" height="1"/>
<rect x="165" y="356" width="4" height="1"/><rect x="971" y="356" width="4" height="1"/>
<rect x="165" y="334" width="4" height="1"/><rect x="971" y="334" width="4" height="1"/>
<rect x="161" y="312" width="8" height="1"/><rect x="971" y="312" width="8" height="1"/>
<rect x="165" y="289" width="4" height="1"/><rect x="971" y="289" width="4" height="1"/>
<rect x="165" y="267" width="4" height="1"/><rect x="971" y="267" width="4" height="1"/>
<rect x="165" y="245" width="4" height="1"/><rect x="971" y="245" width="4" height="1"/>
<rect x="161" y="223" width="8" height="1"/><rect x="971" y="223" width="8" height="1"/>
<rect x="165" y="200" width="4" height="1"/><rect x="971" y="200" width="4" height="1"/>
<rect x="165" y="178" width="4" height="1"/><rect x="971" y="178" width="4" height="1"/>
<rect x="165" y="156" width="4" height="1"/><rect x="971" y="156" width="4" height="1"/>
</g>
<g class="ax">
<rect x="990" y="135" width="21" height="533" fill="#000"/>
<rect x="991" y="136" width="19" height="531" fill="url(#jet)"/>
<rect x="1009" y="649" width="1" height="1" fill="#000"/><rect x="1009" y="631" width="1" height="1" fill="#000"/><rect x="1009" y="613" width="1" height="1" fill="#000"/><rect x="1009" y="596" width="1" height="1" fill="#000"/><rect x="1009" y="578" width="1" height="1" fill="#000"/><rect x="1009" y="560" width="1" height="1" fill="#000"/><rect x="1009" y="542" width="1" height="1" fill="#000"/><rect x="1009" y="525" width="1" height="1" fill="#000"/><rect x="1009" y="507" width="1" height="1" fill="#000"/><rect x="1009" y="489" width="1" height="1" fill="#000"/><rect x="1009" y="471" width="1" height="1" fill="#000"/><rect x="1009" y="454" width="1" height="1" fill="#000"/><rect x="1009" y="436" width="1" height="1" fill="#000"/><rect x="1009" y="418" width="1" height="1" fill="#000"/><rect x="1009" y="401" width="1" height="1" fill="#000"/><rect x="1009" y="383" width="1" height="1" fill="#000"/><rect x="1009" y="365" width="1" height="1" fill="#000"/><rect x="1009" y="347" width="1" height="1" fill="#000"/><rect x="1009" y="330" width="1" height="1" fill="#000"/><rect x="1009" y="312" width="1" height="1" fill="#000"/><rect x="1009" y="294" width="1" height="1" fill="#000"/><rect x="1009" y="276" width="1" height="1" fill="#000"/><rect x="1009" y="259" width="1" height="1" fill="#000"/><rect x="1009" y="241" width="1" height="1" fill="#000"/><rect x="1009" y="223" width="1" height="1" fill="#000"/><rect x="1009" y="205" width="1" height="1" fill="#000"/><rect x="1009" y="188" width="1" height="1" fill="#000"/><rect x="1009" y="170" width="1" height="1" fill="#000"/><rect x="1009" y="152" width="1" height="1" fill="#000"/>
</g>
<g>
<text transform="translate(308.5,115) scale(1.12,1.045)" xml:space="preserve">Peak Width RMS   10:01 26.03.2019 - 13:00 26.03.2019 Muenchen</text>
<text transform="translate(299.5,694) scale(1.12,1)" text-anchor="middle" xml:space="preserve">10:30</text>
<text transform="translate(433.5,694) scale(1.12,1)" text-anchor="middle" xml:space="preserve">11:00</text>
<text transform="translate(566.5,694) scale(1.12,1)" text-anchor="middle" xml:space="preserve">11:30</text>
<text transform="translate(700.5,694) scale(1.12,1)" text-anchor="middle" xml:space="preserve">12:00</text>
<text transform="translate(834.5,694) scale(1.12,1)" text-anchor="middle" xml:space="preserve">12:30</text>
<text transform="translate(967.5,694) scale(1.12,1)" text-anchor="middle" xml:space="preserve">13:00</text>
<text transform="translate(569,714) scale(1.135,1.045)" text-anchor="middle" xml:space="preserve">Time UTC</text>
<text transform="translate(157,584) scale(1.12,1)" text-anchor="end" xml:space="preserve">2</text>
<text transform="translate(157,496) scale(1.12,1)" text-anchor="end" xml:space="preserve">4</text>
<text transform="translate(157,407) scale(1.12,1)" text-anchor="end" xml:space="preserve">6</text>
<text transform="translate(157,318) scale(1.12,1)" text-anchor="end" xml:space="preserve">8</text>
<text transform="translate(157,229) scale(1.12,1)" text-anchor="end" xml:space="preserve">10</text>
<text transform="translate(120,401) scale(1.12,1.03) rotate(-90)" text-anchor="middle" xml:space="preserve">Height AGL km</text>
<text transform="translate(1015,145) scale(1.12,1)" xml:space="preserve">3.0</text>
<text transform="translate(1015,230) scale(1.12,1)" xml:space="preserve">2.5</text>
<text transform="translate(1015,318) scale(1.12,1)" xml:space="preserve">2.0</text>
<text transform="translate(1015,407) scale(1.12,1)" xml:space="preserve">1.5</text>
<text transform="translate(1015,496) scale(1.12,1)" xml:space="preserve">1.0</text>
<text transform="translate(1015,584) scale(1.12,1)" xml:space="preserve">0.5</text>
<text transform="translate(1015,667) scale(1.12,1)" xml:space="preserve">0.0</text>
<text transform="translate(1059,400.5) scale(1.12,1.02) rotate(-90)" text-anchor="middle" xml:space="preserve">RMS m/s</text>
</g>
</svg>
</body>
</html>
